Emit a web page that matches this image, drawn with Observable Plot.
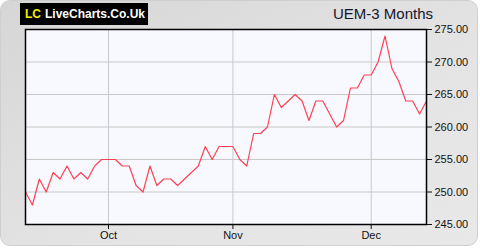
<!DOCTYPE html>
<html><head><meta charset="utf-8">
<script src="https://cdn.jsdelivr.net/npm/d3@7"></script>
<script src="https://cdn.jsdelivr.net/npm/@observablehq/plot@0.6"></script>
<style>
body{margin:0;background:#fff;font-family:"Liberation Sans",Arial,sans-serif;}
#wrap{position:relative;width:480px;height:250px;overflow:hidden;}
#bg{position:absolute;left:0;top:0;width:476px;height:244px;border-radius:10px;border:1px solid #cfcfcf;background:linear-gradient(to bottom right,#d6d6d6,#e4e4e4 60%,#e8e8e8);}
#logo{position:absolute;left:20px;top:3px;padding:0 3px 0 5px;height:22px;background:#000;color:#fff;font-weight:bold;font-size:12px;line-height:22px;white-space:nowrap;}
#logo span{color:#f0f000;margin-right:4px;}
#title{position:absolute;right:47px;top:5px;font-size:15px;color:#15152e;white-space:nowrap;}
#chart{position:absolute;left:0;top:0;}
</style></head><body>
<div id="wrap"><div id="bg"></div>
<div id="logo"><span>LC</span>LiveCharts.Co.Uk</div>
<div id="title">UEM-3 Months</div>
<div id="chart"></div></div>
<script>
const values = [250,248,252,250,253,252,254,252,253,252,254,255,255,255,254,254,251,250,254,251,252,252,251,252,253,254,257,255,257,257,257,255,254,259,259,260,265,263,264,265,264,261,264,264,262,260,261,266,266,268,268,270,274,269,267,264,264,262,264];
const xTickPos = [12, 30, 50];
const xTickLabels = ["Oct", "Nov", "Dec"];
const yTicks = [245, 250, 255, 260, 265, 270, 275];

const chart = Plot.plot({
  width: 480, height: 250,
  marginLeft: 25, marginRight: 54, marginTop: 29, marginBottom: 26,
  style: {fontFamily: "'Liberation Sans', Arial, sans-serif", background: "transparent", color: "#111"},
  x: {domain: [0, values.length - 1], axis: null},
  y: {domain: [245, 275], axis: null},
  marks: [
    Plot.frame({fill: "#f8f9ff"}),
    Plot.gridY(yTicks, {stroke: "#c8c8c8", strokeOpacity: 1}),
    Plot.gridX(xTickPos, {stroke: "#c8c8c8", strokeOpacity: 1}),
    Plot.lineY(values, {x: (d, i) => i, y: d => d, stroke: "#ff4252", strokeWidth: 1.2}),
    Plot.frame({stroke: "#000", strokeWidth: 1.5}),
    Plot.axisY(yTicks, {anchor: "right", tickFormat: d => d.toFixed(2), tickSize: 5, tickPadding: 3, fontSize: 11}),
    Plot.axisX(xTickPos, {anchor: "bottom", tickFormat: d => xTickLabels[xTickPos.indexOf(d)], tickSize: 5, tickPadding: 2, fontSize: 11})
  ]
});
document.getElementById("chart").appendChild(chart);
</script>
</body></html>
